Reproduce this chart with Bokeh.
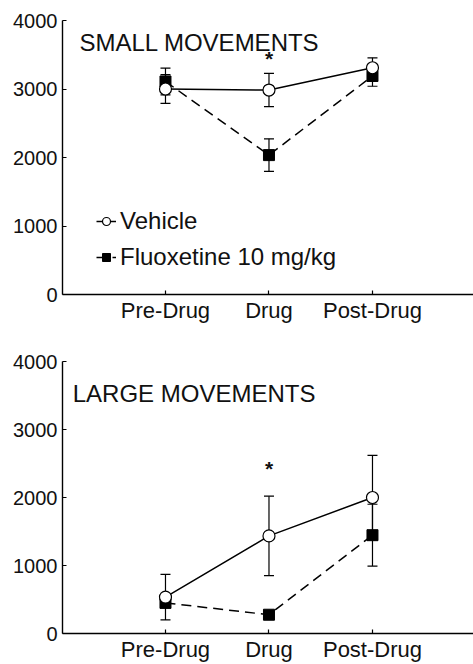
from bokeh.plotting import figure
from bokeh.models import (ColumnDataSource, Range1d, FixedTicker, Whisker, TeeHead,
                          Legend, LegendItem, Label)
from bokeh.layouts import column
from bokeh.embed import file_html
from bokeh.resources import INLINE

# ---------------- data ----------------
categories = ["Pre-Drug", "Drug", "Post-Drug"]
x_idx = [0, 1, 2]

small_vehicle = [3000, 2985, 3310]
small_vehicle_err = [210, 242, 145]
small_fluox = [3110, 2035, 3190]
small_fluox_err = [195, 237, 150]

large_vehicle = [535, 1435, 2000]
large_vehicle_err = [335, 585, 620]
large_fluox = [450, 276, 1446]
large_fluox_err = [60, 40, 455]

y_ticks = [0, 1000, 2000, 3000, 4000]
panel_titles = ["SMALL MOVEMENTS", "LARGE MOVEMENTS"]
star_category = 1
star_y = [3450, 2425]
legend_labels = ["Vehicle", "Fluoxetine 10 mg/kg"]

FONT = "Liberation Sans"
X_START, X_END = -0.995, 2.976


def make_panel(height, border_top, border_bottom, veh, veh_err, flu, flu_err,
               title, title_x, title_y, sy, show_legend):
    p = figure(width=473, height=height, output_backend="svg", toolbar_location=None,
               x_range=Range1d(X_START, X_END), y_range=Range1d(0, 4000),
               min_border_left=62, min_border_right=0,
               min_border_top=border_top, min_border_bottom=border_bottom)
    p.outline_line_color = None
    p.xgrid.grid_line_color = None
    p.ygrid.grid_line_color = None
    p.background_fill_color = "white"

    # axes
    p.xaxis.ticker = FixedTicker(ticks=x_idx)
    p.xaxis.major_label_overrides = {i: c for i, c in zip(x_idx, categories)}
    p.xaxis.major_tick_in = 4
    p.xaxis.major_tick_out = 0
    p.xaxis.minor_tick_line_color = None
    p.xaxis.major_label_standoff = 3
    p.xaxis.major_label_text_font = FONT
    p.xaxis.major_label_text_font_size = "22px"
    p.xaxis.major_label_text_color = "#111111"
    p.xaxis.axis_line_width = 1.4
    p.xaxis.major_tick_line_width = 1.2

    p.yaxis.ticker = FixedTicker(ticks=y_ticks)
    p.yaxis.major_tick_in = 4
    p.yaxis.major_tick_out = 0
    p.yaxis.minor_tick_line_color = None
    p.yaxis.major_label_standoff = 5
    p.yaxis.major_label_text_font = FONT
    p.yaxis.major_label_text_font_size = "20px"
    p.yaxis.major_label_text_color = "#111111"
    p.yaxis.axis_line_width = 1.4
    p.yaxis.major_tick_line_width = 1.2

    src = ColumnDataSource(dict(
        x=x_idx, veh=veh, flu=flu,
        veh_up=[v + e for v, e in zip(veh, veh_err)],
        veh_lo=[v - e for v, e in zip(veh, veh_err)],
        flu_up=[v + e for v, e in zip(flu, flu_err)],
        flu_lo=[v - e for v, e in zip(flu, flu_err)],
    ))

    for up, lo in (("veh_up", "veh_lo"), ("flu_up", "flu_lo")):
        w = Whisker(base="x", upper=up, lower=lo, source=src,
                    line_color="black", line_width=1.2,
                    upper_head=TeeHead(size=10, line_color="black", line_width=1.2),
                    lower_head=TeeHead(size=10, line_color="black", line_width=1.2))
        p.add_layout(w)

    l_flu = p.line("x", "flu", source=src, line_color="black", line_width=1.5,
                   line_dash="10 6")
    l_veh = p.line("x", "veh", source=src, line_color="black", line_width=1.5)
    m_flu = p.scatter("x", "flu", source=src, marker="square", size=11,
                      fill_color="black", line_color="black", line_width=1)
    m_veh = p.scatter("x", "veh", source=src, marker="circle", size=12,
                      fill_color="white", line_color="black", line_width=1.2)

    p.add_layout(Label(x=title_x, y=title_y, text=title, text_font=FONT,
                       text_font_size="24px", text_color="#111111",
                       text_baseline="alphabetic", text_align="left"))
    p.add_layout(Label(x=x_idx[star_category], y=sy, text="*", text_font=FONT,
                       text_font_size="21px", text_font_style="bold",
                       text_color="#111111",
                       text_baseline="alphabetic", text_align="center"))

    if show_legend:
        leg = Legend(items=[LegendItem(label=legend_labels[0], renderers=[l_veh, m_veh]),
                            LegendItem(label=legend_labels[1], renderers=[l_flu, m_flu])],
                     location=(34, 23), padding=0, margin=0, spacing=8,
                     glyph_width=20, glyph_height=26, label_height=26,
                     label_standoff=4, label_text_font=FONT,
                     label_text_font_size="24px", label_text_color="#111111",
                     border_line_color=None, background_fill_alpha=0)
        p.add_layout(leg)
    return p


p1 = make_panel(330, 20, 36, small_vehicle, small_vehicle_err, small_fluox,
                small_fluox_err, panel_titles[0], -0.831, 3683, star_y[0], True)
p2 = make_panel(334, 31, 27, large_vehicle, large_vehicle_err, large_fluox,
                large_fluox_err, panel_titles[1], -0.896, 3526, star_y[1], False)

layout = column(p1, p2, spacing=0)
open("out.html", "w").write(file_html(layout, INLINE))
